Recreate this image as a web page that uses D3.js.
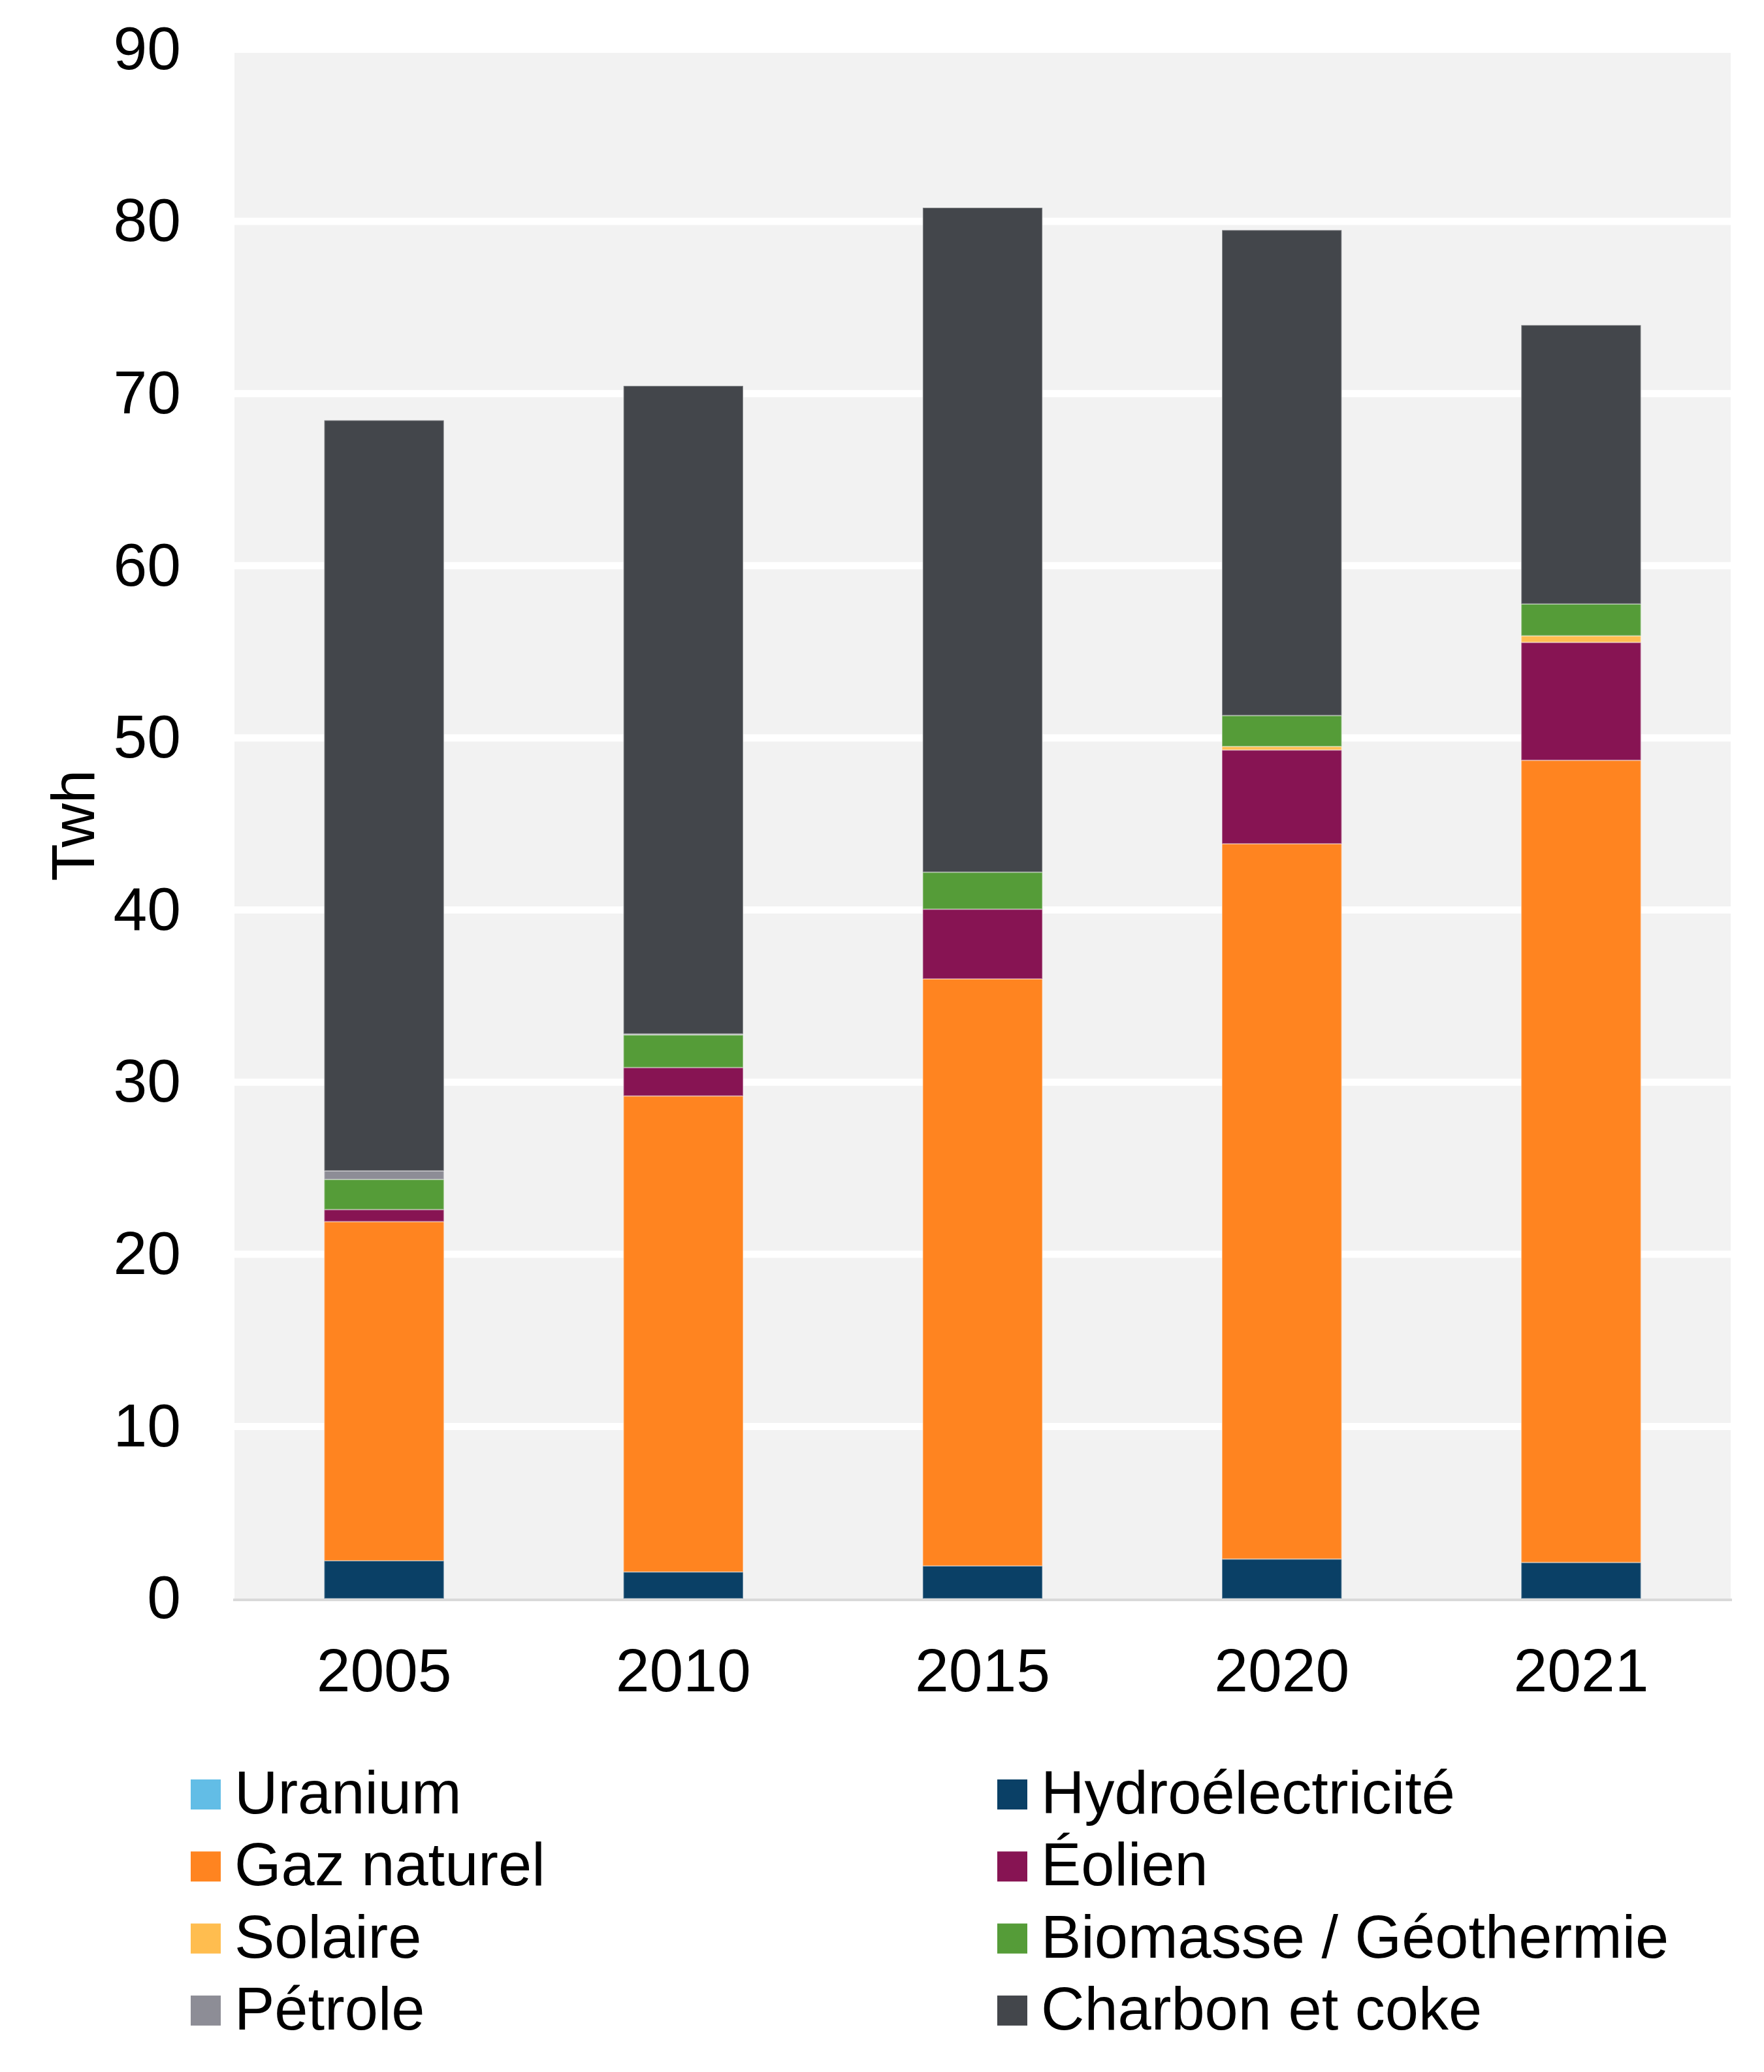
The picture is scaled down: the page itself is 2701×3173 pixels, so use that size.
<!DOCTYPE html>
<html lang="fr">
<head>
<meta charset="UTF-8">
<title>Production d'électricité par source</title>
<script src="https://d3js.org/d3.v7.min.js"></script>
<style>
body {
  margin: 0;
  background: white;
}
text {
  font-family: "Liberation Sans", Arial, Helvetica, sans-serif;
  fill: black;
}
</style>
</head>
<body>
<div id="chart"></div>

<script>
// data (TWh)
var years = ["2005", "2010", "2015", "2020", "2021"];
var sources = ["Uranium", "Hydroélectricité", "Gaz naturel", "Éolien", "Solaire", "Biomasse / Géothermie", "Pétrole", "Charbon et coke"];
var colors = ["#62bde6", "#0a4066", "#ff8420", "#871453", "#ffbd4f", "#559c38", "#8d8d96", "#43464b"];

var uranium  = [0, 0, 0, 0, 0];
var hydro    = [2.2, 1.55, 1.9, 2.3, 2.1];
var gaz      = [19.7, 27.65, 34.1, 41.55, 46.6];
var eolien   = [0.7, 1.65, 4.05, 5.45, 6.85];
var solaire  = [0, 0, 0, 0.2, 0.38];
var biomasse = [1.75, 1.9, 2.15, 1.8, 1.85];
var petrole  = [0.5, 0.05, 0, 0, 0];
var charbon  = [43.6, 37.65, 38.6, 28.2, 16.2];

var yTicks = [0, 10, 20, 30, 40, 50, 60, 70, 80, 90];

var series = [uranium, hydro, gaz, eolien, solaire, biomasse, petrole, charbon];

var W = 2701, H = 3173;
var margin = {top: 75, right: 51, bottom: 725, left: 359};
var fontSize = 93;
var legendFont = 92;

// table for the stack
var table = years.map(function(y, i) {
  var row = {year: y};
  sources.forEach(function(s, j) { row[s] = series[j][i]; });
  return row;
});

var svg = d3.select("#chart")
    .append("svg")
    .attr("width", W)
    .attr("height", H);

var x = d3.scaleBand()
    .domain(years)
    .range([margin.left, W - margin.right])
    .paddingInner(0.6)
    .paddingOuter(0.3);

var y = d3.scaleLinear()
    .domain([0, 90])
    .range([2448, 75.5]);

// plot background
svg.append("rect")
    .attr("x", margin.left)
    .attr("y", y(90))
    .attr("width", W - margin.right - margin.left)
    .attr("height", y(0) - y(90))
    .attr("fill", "#f2f2f2");

// gridlines
svg.append("g")
    .selectAll("line")
    .data(yTicks.filter(function(d) { return d > 0; }))
    .join("line")
    .attr("x1", margin.left)
    .attr("x2", W - margin.right)
    .attr("y1", function(d) { return y(d); })
    .attr("y2", function(d) { return y(d); })
    .attr("stroke", "white")
    .attr("stroke-width", 11);

var stack = d3.stack().keys(sources);
var layers = stack(table);

svg.append("g")
    .selectAll("g")
    .data(layers)
    .join("g")
    .attr("fill", function(d, i) { return colors[i]; })
    .selectAll("rect")
    .data(function(d) { return d; })
    .join("rect")
    .attr("x", function(d) { return x(d.data.year); })
    .attr("width", x.bandwidth())
    .attr("y", function(d) { return y(d[1]); })
    .attr("height", function(d) { return y(d[0]) - y(d[1]); })
    .attr("stroke", function(d) { return (d[1] - d[0]) > 0 ? "rgba(255,255,255,0.35)" : "none"; })
    .attr("stroke-width", 2);

// baseline
svg.append("line")
    .attr("x1", margin.left - 2)
    .attr("x2", W - margin.right + 2)
    .attr("y1", y(0) + 2)
    .attr("y2", y(0) + 2)
    .attr("stroke", "#d9d9d9")
    .attr("stroke-width", 4);

// y axis labels
var yAxis = d3.axisLeft(y).tickValues(yTicks).tickSize(0).tickPadding(82);
var gy = svg.append("g")
    .attr("transform", "translate(" + margin.left + ",0)")
    .call(yAxis);
gy.select(".domain").remove();
gy.selectAll("text")
    .attr("font-size", fontSize)
    .attr("font-family", "Liberation Sans, Arial, sans-serif")
    .attr("fill", "black");

// x axis labels
var xAxis = d3.axisBottom(x).tickSize(0).tickPadding(76);
var gx = svg.append("g")
    .attr("transform", "translate(0," + y(0) + ")")
    .call(xAxis);
gx.select(".domain").remove();
gx.selectAll("text")
    .attr("font-size", fontSize)
    .attr("font-family", "Liberation Sans, Arial, sans-serif")
    .attr("fill", "black");

// axis title
svg.append("text")
    .attr("transform", "translate(144,1264) rotate(-90)")
    .attr("text-anchor", "middle")
    .attr("font-size", fontSize)
    .text("Twh");

// legend, two columns, row-major
var legend = svg.append("g")
    .selectAll("g")
    .data(sources)
    .join("g")
    .attr("transform", function(d, i) {
      var col = i % 2, row = Math.floor(i / 2);
      return "translate(" + (col === 0 ? 292 : 1527) + "," + (2725 + row * 110.3) + ")";
    });

legend.append("rect")
    .attr("width", 46)
    .attr("height", 46)
    .attr("fill", function(d, i) { return colors[i]; });

legend.append("text")
    .attr("x", 67)
    .attr("y", 52)
    .attr("font-size", legendFont)
    .text(function(d) { return d; });
</script>
</body>
</html>
